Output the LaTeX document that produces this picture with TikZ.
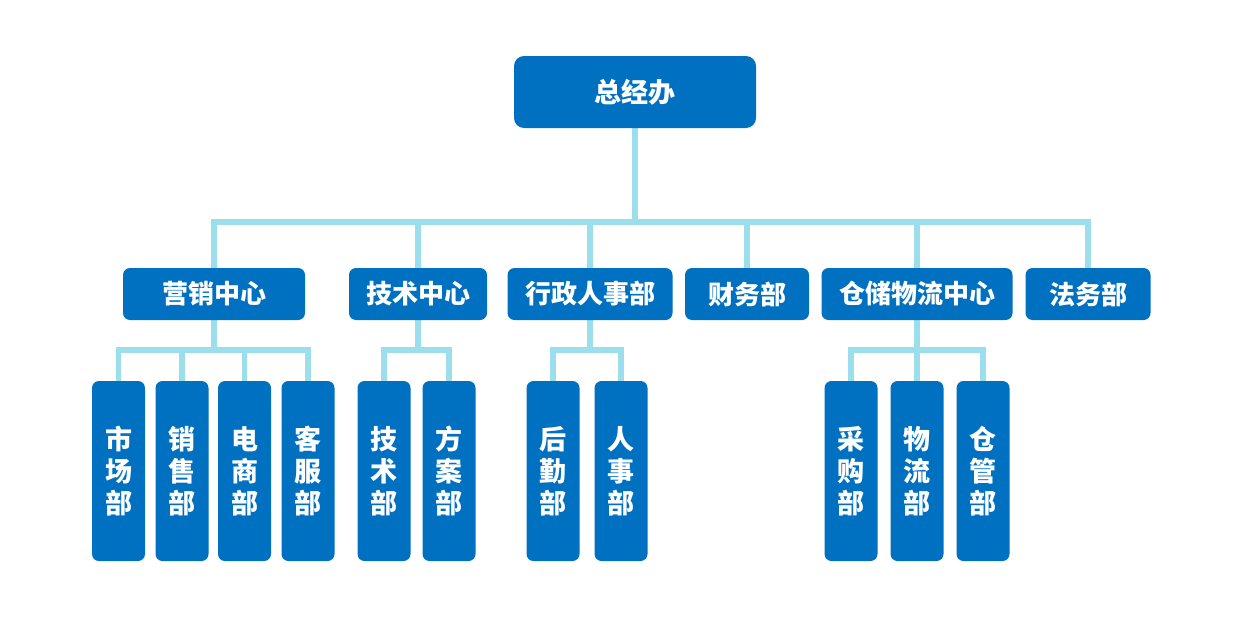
\documentclass[tikz,border=0pt]{standalone}
\usepackage{fontspec}
\newfontfamily\cjk{Noto Sans CJK SC}
\usetikzlibrary{backgrounds}
\definecolor{boxblue}{HTML}{0070C0}
\definecolor{linkblue}{HTML}{9CDFEC}

\begin{document}
\begin{tikzpicture}[x=0.5pt, y=-0.5pt,
    box/.style={fill=boxblue, text=white, rounded corners=3.5pt, inner sep=0pt,
      minimum height=26pt, font=\cjk\bfseries\fontsize{13}{16}\selectfont},
    leaf/.style={box, minimum width=26.5pt, minimum height=90pt, align=center,
      font=\cjk\bfseries\fontsize{13.5}{16}\selectfont},
    link/.style={draw=linkblue, line width=2.8pt}]
  \useasboundingbox (0,0) rectangle (1242,621);
  \node[box, minimum width=121pt, minimum height=36pt, rounded corners=5pt,
    font=\cjk\bfseries\fontsize{13.5}{16}\selectfont] (zjb) at (635,92) {总经办};
  % second row
  \node[box, minimum width=91pt] (yx) at (214,294) {营销中心};
  \node[box, minimum width=69pt] (js) at (418,294) {技术中心};
  \node[box, minimum width=82.5pt] (xz) at (590,294) {行政人事部};
  \node[box, minimum width=62pt] (cw) at (747,294) {财务部};
  \node[box, minimum width=95.5pt] (cc) at (917,294) {仓储物流中心};
  \node[box, minimum width=62.5pt] (fw) at (1088,294) {法务部};
  % third row
  \foreach \n/\x/\a/\b/\c in {sc/118.5/市/场/部, xs/182/销/售/部, ds/244.5/电/商/部,
      kf/308/客/服/部, jsb/384/技/术/部, fa/449/方/案/部, hq/553/后/勤/部,
      rs/621/人/事/部, cg/851/采/购/部, wl/917/物/流/部, cgb/983/仓/管/部}
    \node[leaf] (\n) at (\x,471) {\a\\\b\\\c};
  \coordinate (top) at (0,222);
  \coordinate (sub) at (0,350);
  \begin{scope}[on background layer]
    \draw[link] (zjb.south) -- (zjb.south |- top);
    \draw[link] (yx.north) -- (yx.north |- top) -- (fw.north |- top) -- (fw.north);
    \foreach \n in {js, xz, cw, cc}
      \draw[link] (\n.north) -- (\n.north |- top);
    \draw[link] (sc.north) -- (sc.north |- sub) -- (kf.north |- sub) -- (kf.north);
    \draw[link] (jsb.north) -- (jsb.north |- sub) -- (fa.north |- sub) -- (fa.north);
    \draw[link] (hq.north) -- (hq.north |- sub) -- (rs.north |- sub) -- (rs.north);
    \draw[link] (cg.north) -- (cg.north |- sub) -- (cgb.north |- sub) -- (cgb.north);
    \foreach \n in {yx, js, xz, cc}
      \draw[link] (\n.south) -- (\n.south |- sub);
    \foreach \n in {xs, ds, wl}
      \draw[link] (\n.north) -- (\n.north |- sub);
  \end{scope}
\end{tikzpicture}
\end{document}
